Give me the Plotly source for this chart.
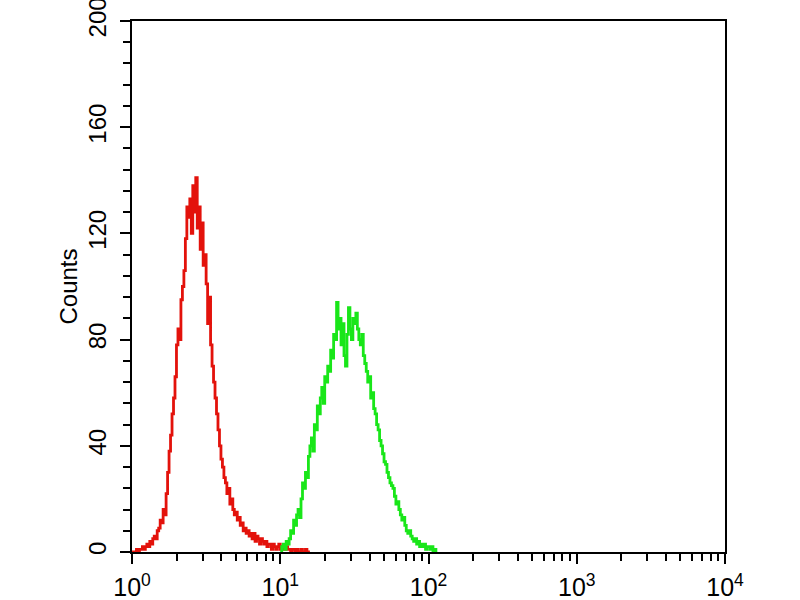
import numpy as np
import plotly.graph_objects as go

# channel bins, in decades (log10 of intensity)
red_start, green_start, step = 0.0, 1.0, 0.01

red_counts = [0, 0, 0, 1, 0, 1,
              1, 2, 1, 2, 3,
              2, 4, 3, 5, 6,
              5, 8, 9, 12, 11,
              16, 14, 22, 30, 38,
              44, 52, 58, 66, 78,
              84, 80, 95, 100, 106,
              118, 130, 126, 133, 120,
              138, 128, 141, 122, 130,
              114, 124, 108, 112, 101,
              86, 96, 78, 70, 64,
              58, 52, 46, 40, 35,
              32, 28, 26, 22, 24,
              18, 20, 16, 14, 15,
              12, 13, 10, 11, 8,
              9, 7, 8, 6, 7,
              5, 7, 4, 6, 5,
              3, 5, 4, 3, 4,
              2, 3, 3, 1, 3,
              2, 1, 2, 3, 1,
              2, 1, 1, 2, 1,
              1, 0, 1, 1, 0,
              1, 0, 0, 1, 0,
              0, 1, 0, 0, 0]

green_counts = [0, 2, 3, 1, 4, 3,
                5, 8, 7, 12, 10,
                14, 16, 13, 20, 26,
                24, 30, 28, 36, 40,
                43, 38, 48, 46, 55,
                52, 58, 62, 56, 66,
                64, 70, 68, 76, 73,
                82, 80, 94, 84, 88,
                78, 86, 74, 70, 82,
                92, 84, 80, 88, 86,
                90, 84, 80, 78, 82,
                74, 71, 68, 64, 66,
                58, 60, 54, 52, 48,
                46, 42, 40, 37, 34,
                33, 30, 28, 26, 25,
                24, 21, 18, 19, 16,
                14, 12, 13, 10, 8,
                7, 8, 6, 5, 4,
                5, 3, 4, 2, 3,
                2, 3, 1, 2, 2,
                1, 2, 0, 1, 0]

x_ticks = [1, 10, 100, 1000, 10000]
x_ticktext = ["10<sup>0</sup>", "10<sup>1</sup>", "10<sup>2</sup>", "10<sup>3</sup>", "10<sup>4</sup>"]
y_ticks = [0, 40, 80, 120, 160, 200]

red_x = 10 ** (red_start + step * np.arange(len(red_counts)))
green_x = 10 ** (green_start + step * np.arange(len(green_counts)))

font = "Liberation Sans, Arial, sans-serif"

fig = go.Figure()
fig.add_trace(go.Scatter(x=red_x, y=red_counts, mode="lines",
                         line=dict(color="#e3120b", width=2.8, shape="hv")))
fig.add_trace(go.Scatter(x=green_x, y=green_counts, mode="lines",
                         line=dict(color="#19e619", width=2.8, shape="hv")))

minor_x = [m * 10 ** d for d in range(4) for m in range(2, 10)]

fig.update_layout(
    width=800, height=600,
    margin=dict(l=132, r=75, t=21, b=48),
    paper_bgcolor="white", plot_bgcolor="white",
    showlegend=False,
    font=dict(family=font, color="black", size=24),
)
fig.update_xaxes(
    type="log", range=[0, 4], automargin=False,
    tickmode="array", tickvals=x_ticks, ticktext=x_ticktext,
    tickfont=dict(size=25),
    ticks="outside", ticklen=10, tickwidth=2, tickcolor="black",
    ticklabelstandoff=2, ticklabeloverflow="allow",
    minor=dict(tickmode="array", tickvals=minor_x, ticks="outside",
               ticklen=7, tickwidth=2, tickcolor="black"),
    showline=True, linecolor="black", linewidth=2, mirror=True,
    showgrid=False, zeroline=False,
)
fig.update_yaxes(
    range=[0, 200], automargin=False,
    tickmode="array", tickvals=y_ticks, tickangle=-90,
    ticks="outside", ticklen=10, tickwidth=2, tickcolor="black",
    ticklabelstandoff=4, ticklabeloverflow="allow",
    minor=dict(dtick=8, ticks="outside", ticklen=7, tickwidth=2, tickcolor="black"),
    showline=True, linecolor="black", linewidth=2, mirror=True,
    showgrid=False, zeroline=False,
    title=dict(text="Counts", font=dict(size=24), standoff=0),
)

fig.write_html("out.html", config={"displayModeBar": False},
               post_script="document.body.style.margin='0';")
